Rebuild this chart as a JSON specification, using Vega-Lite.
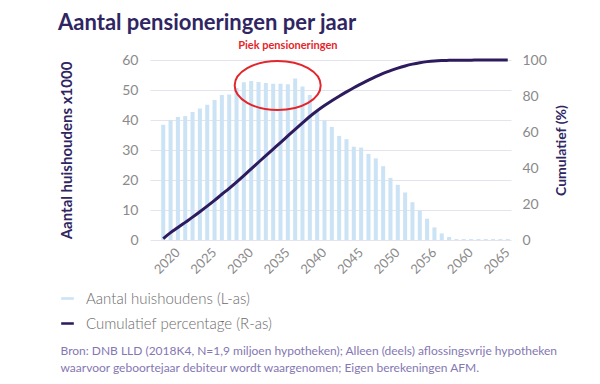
{
  "$schema": "https://vega.github.io/schema/vega-lite/v6.json",
  "width": 361,
  "height": 180,
  "autosize": {"type": "none"},
  "padding": {"left": 150, "top": 60, "right": 89, "bottom": 144},
  "background": "white",
  "config": {"view": {"stroke": null}},
  "title": {"text": "Aantal pensioneringen per jaar", "anchor": "start", "frame": "group", "dx": -92, "dy": 25, "font": "Lato", "fontSize": 22, "fontWeight": "bold", "color": "#2f2562", "offset": 30},
  "data": {"values": [
    {"year": 2018, "huishoudens": 38.4, "cumulatief": 0.8},
    {"year": 2019, "huishoudens": 40.0, "cumulatief": 4.1},
    {"year": 2020, "huishoudens": 41.0, "cumulatief": 6.9},
    {"year": 2021, "huishoudens": 41.3, "cumulatief": 9.8},
    {"year": 2022, "huishoudens": 42.7, "cumulatief": 12.7},
    {"year": 2023, "huishoudens": 43.8, "cumulatief": 15.7},
    {"year": 2024, "huishoudens": 45.1, "cumulatief": 18.8},
    {"year": 2025, "huishoudens": 46.7, "cumulatief": 22.0},
    {"year": 2026, "huishoudens": 48.3, "cumulatief": 25.4},
    {"year": 2027, "huishoudens": 48.5, "cumulatief": 28.7},
    {"year": 2028, "huishoudens": 50.7, "cumulatief": 32.2},
    {"year": 2029, "huishoudens": 52.6, "cumulatief": 35.8},
    {"year": 2030, "huishoudens": 53.0, "cumulatief": 39.5},
    {"year": 2031, "huishoudens": 52.7, "cumulatief": 43.2},
    {"year": 2032, "huishoudens": 52.3, "cumulatief": 46.9},
    {"year": 2033, "huishoudens": 52.1, "cumulatief": 50.5},
    {"year": 2034, "huishoudens": 52.1, "cumulatief": 54.1},
    {"year": 2035, "huishoudens": 51.9, "cumulatief": 57.8},
    {"year": 2036, "huishoudens": 53.8, "cumulatief": 61.5},
    {"year": 2037, "huishoudens": 51.2, "cumulatief": 65.1},
    {"year": 2038, "huishoudens": 48.3, "cumulatief": 68.6},
    {"year": 2039, "huishoudens": 42.8, "cumulatief": 71.8},
    {"year": 2040, "huishoudens": 39.8, "cumulatief": 74.7},
    {"year": 2041, "huishoudens": 37.7, "cumulatief": 77.4},
    {"year": 2042, "huishoudens": 34.7, "cumulatief": 79.9},
    {"year": 2043, "huishoudens": 33.6, "cumulatief": 82.3},
    {"year": 2044, "huishoudens": 31.1, "cumulatief": 84.6},
    {"year": 2045, "huishoudens": 30.8, "cumulatief": 86.7},
    {"year": 2046, "huishoudens": 28.7, "cumulatief": 88.8},
    {"year": 2047, "huishoudens": 27.2, "cumulatief": 90.8},
    {"year": 2048, "huishoudens": 24.6, "cumulatief": 92.6},
    {"year": 2049, "huishoudens": 20.7, "cumulatief": 94.1},
    {"year": 2050, "huishoudens": 18.4, "cumulatief": 95.5},
    {"year": 2051, "huishoudens": 15.8, "cumulatief": 96.7},
    {"year": 2052, "huishoudens": 12.6, "cumulatief": 97.7},
    {"year": 2053, "huishoudens": 9.8, "cumulatief": 98.5},
    {"year": 2054, "huishoudens": 7.1, "cumulatief": 99.1},
    {"year": 2055, "huishoudens": 4.2, "cumulatief": 99.5},
    {"year": 2056, "huishoudens": 2.2, "cumulatief": 99.7},
    {"year": 2057, "huishoudens": 1.0, "cumulatief": 99.8},
    {"year": 2058, "huishoudens": 0.3, "cumulatief": 99.9},
    {"year": 2059, "huishoudens": 0.3, "cumulatief": 99.9},
    {"year": 2060, "huishoudens": 0.3, "cumulatief": 99.9},
    {"year": 2061, "huishoudens": 0.3, "cumulatief": 100},
    {"year": 2062, "huishoudens": 0.3, "cumulatief": 100},
    {"year": 2063, "huishoudens": 0.3, "cumulatief": 100},
    {"year": 2064, "huishoudens": 0.3, "cumulatief": 100},
    {"year": 2065, "huishoudens": 0.3, "cumulatief": 100}
  ]},
  "layer": [
    {
      "mark": {"type": "bar"},
      "encoding": {
        "x": {
          "field": "year", "type": "ordinal",
          "scale": {"paddingInner": 0.45, "paddingOuter": 0.85, "align": 0.9},
          "axis": {
            "values": [2020, 2025, 2030, 2035, 2040, 2045, 2050, 2055, 2060, 2065],
            "labelExpr": "datum.value == 2055 ? '2056' : datum.label",
            "labelAngle": -45, "labelAlign": "right", "labelBaseline": "middle",
            "labelPadding": 10, "ticks": false, "tickSize": 0, "domain": false,
            "labelFont": "Lato", "labelFontSize": 13, "labelColor": "#8a8a8a",
            "title": ["Bron: DNB LLD (2018K4, N=1,9 miljoen hypotheken); Alleen (deels) aflossingsvrije hypotheken", "waarvoor geboortejaar debiteur wordt waargenomen; Eigen berekeningen AFM."],
            "titleX": -90, "titleY": 105, "titleAlign": "left", "titleBaseline": "top", "titleAngle": 0,
            "titleFont": "Lato", "titleFontSize": 12, "titleFontWeight": 400, "titleColor": "#8577b3", "titleLineHeight": 17
          }
        },
        "y": {
          "field": "huishoudens", "type": "quantitative",
          "scale": {"domain": [0, 60]},
          "axis": {
            "values": [0, 10, 20, 30, 40, 50, 60], "grid": true, "gridColor": "#e5e3ed", "gridWidth": 1,
            "ticks": false, "tickSize": 0, "domain": false, "labelPadding": 12,
            "labelFont": "Lato", "labelFontSize": 14, "labelColor": "#8a8a8a",
            "title": "Aantal huishoudens x1000", "titleFont": "Lato", "titleFontSize": 15, "titleFontWeight": "bold", "titleColor": "#2f2562", "titlePadding": 47
          }
        },
        "color": {
          "datum": "Aantal huishoudens (L-as)",
          "scale": {"domain": ["Aantal huishoudens (L-as)", "Cumulatief percentage (R-as)"], "range": ["#cbe3f5", "#2d1b5e"]},
          "legend": {
            "orient": "none", "legendX": -90, "legendY": 231, "direction": "vertical", "title": null,
            "symbolType": "M-1,-0.2H1V0.2H-1Z", "symbolSize": 160, "symbolStrokeWidth": 0,
            "labelFont": "Lato", "labelFontSize": 15, "labelFontWeight": 300, "labelColor": "#6b6b6b",
            "labelOffset": 11, "rowPadding": 9, "labelLimit": 0
          }
        }
      }
    },
    {
      "mark": {"type": "line", "strokeWidth": 3, "interpolate": "monotone"},
      "encoding": {
        "x": {"field": "year", "type": "ordinal"},
        "y": {
          "field": "cumulatief", "type": "quantitative",
          "scale": {"domain": [0, 100]},
          "axis": {
            "orient": "right", "values": [0, 20, 40, 60, 80, 100], "grid": false,
            "ticks": false, "tickSize": 0, "domain": false, "labelPadding": 11,
            "labelFont": "Lato", "labelFontSize": 14, "labelColor": "#8a8a8a",
            "title": "Cumulatief (%)", "titleAngle": 270, "titleBaseline": "top", "titleFont": "Lato", "titleFontSize": 14, "titleFontWeight": "bold", "titleColor": "#2f2562", "titlePadding": 8
          }
        },
        "color": {"datum": "Cumulatief percentage (R-as)"}
      }
    },
    {
      "data": {"values": [{"year": 2033, "v": 51.5}]},
      "mark": {"type": "point", "shape": "M-1,0C-1,-0.315,-0.552,-0.57,0,-0.57C0.552,-0.57,1,-0.315,1,0C1,0.315,0.552,0.57,0,0.57C-0.552,0.57,-1,0.315,-1,0Z", "size": 7396, "filled": false, "color": "#e3262c", "stroke": "#e3262c", "strokeWidth": 2, "opacity": 1, "xOffset": 4.5},
      "encoding": {
        "x": {"field": "year", "type": "ordinal"},
        "y": {"field": "v", "type": "quantitative", "scale": {"domain": [0, 60]}, "axis": null}
      }
    },
    {
      "data": {"values": [{"year": 2035, "v": 63.6, "label": "Piek pensioneringen"}]},
      "mark": {"type": "text", "font": "Lato", "fontSize": 11, "fontWeight": "bold", "color": "#e3262c", "baseline": "alphabetic"},
      "encoding": {
        "x": {"field": "year", "type": "ordinal"},
        "y": {"field": "v", "type": "quantitative", "scale": {"domain": [0, 60]}, "axis": null},
        "text": {"field": "label"}
      }
    }
  ],
  "resolve": {"scale": {"y": "independent"}}
}
